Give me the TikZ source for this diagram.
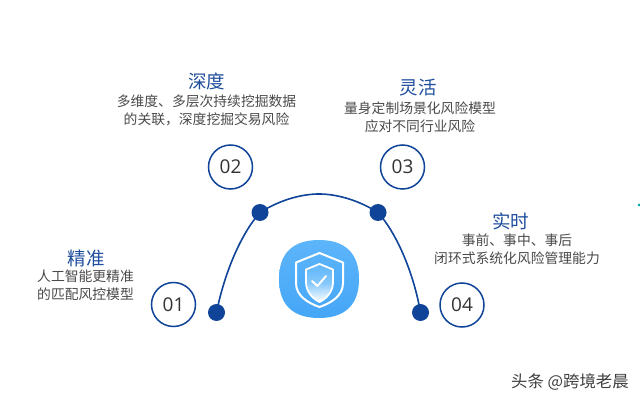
\documentclass[tikz,border=0pt]{standalone}
\usepackage{fontspec}
\setmainfont{Noto Sans CJK SC}
\newfontfamily\numfont{Open Sans}
\definecolor{navy}{HTML}{0F4499}
\definecolor{titleblue}{HTML}{1F4E9E}
\definecolor{bodygrey}{HTML}{4A4A4A}
\definecolor{iconblue}{HTML}{45A6F7}
\definecolor{iconlight}{HTML}{5DB5FA}
\tikzset{
  arcline/.style={draw=navy,line width=1.6pt},
  dot/.style={circle,fill=navy,draw=none,inner sep=0pt},
  numring/.style={circle,draw=navy,line width=1.5pt,fill=white,minimum size=44pt,inner sep=0pt,font=\numfont\fontsize{19}{19}\selectfont,text=black!80},
  headline/.style={font=\fontsize{18.5}{20}\selectfont,text=titleblue,inner sep=0pt},
  bodytext/.style={font=\fontsize{13.8}{18}\selectfont,text=bodygrey,align=center,inner sep=0pt},
  wmark/.style={font=\fontsize{16.4}{18}\selectfont,text=black!75,inner sep=0pt},
  shieldline/.style={draw=white,line join=round}
}
\begin{document}
\begin{tikzpicture}[x=1pt,y=-1pt]
\useasboundingbox (0,0) rectangle (640,403);
\fill[white] (0,0) rectangle (640,403);
% nodes on the arc
\node[dot,minimum size=17pt] (p1) at (216.5,312.5) {};
\node[dot,minimum size=17pt] (p2) at (260,212.5) {};
\node[dot,minimum size=17pt] (p3) at (378,212.5) {};
\node[dot,minimum size=17pt] (p4) at (420.5,312.5) {};
% arc
\draw[arcline] (p1.center) .. controls (224,275) and (240,235) .. (p2.center);
\draw[arcline] (p2.center) .. controls (283,198) and (305,194) .. (319,194) .. controls (333,194) and (355,198) .. (p3.center);
\draw[arcline] (p3.center) .. controls (398,235) and (414,275) .. (p4.center);
% number rings
\node[numring] (n1) at (173.5,304.5) {01};
\node[numring] (n2) at (230.5,167) {02};
\node[numring] (n3) at (402.5,167) {03};
\node[numring] (n4) at (462,305) {04};
% texts
\node[headline] (t1) at (86,258.5) {精准};
\node[bodytext] (b1) at (85.5,285) {人工智能更精准\\的匹配风控模型};
\node[headline] (t2) at (206.5,81) {深度};
\node[bodytext] (b2) at (206.5,110) {多维度、多层次持续挖掘数据\\的关联，深度挖掘交易风险};
\node[headline] (t3) at (418,87.5) {灵活};
\node[bodytext] (b3) at (420,117) {量身定制场景化风险模型\\应对不同行业风险};
\node[headline] (t4) at (510.5,221.5) {实时};
\node[bodytext] (b4) at (517,249) {事前、事中、事后\\闭环式系统化风险管理能力};
% icon
\shade[top color=iconlight,bottom color=iconblue]
  (319,240) .. controls (345,240) and (359,253) .. (359,279)
  .. controls (359,305) and (345,318) .. (319,318)
  .. controls (293,318) and (279,305) .. (279,279)
  .. controls (279,253) and (293,240) .. (319,240) -- cycle;
\shade[top color=iconlight,bottom color=white,middle color=iconlight!75!white]
  (319.5,264) -- (333,269.5) -- (333,282) .. controls (333,292) and (326,299) .. (319.5,302)
  .. controls (313,299) and (306,292) .. (306,282) -- (306,269.5) -- cycle;
\draw[shieldline,line width=2pt]
  (319.5,253) -- (343,262.5) -- (343,283) .. controls (343,296) and (331,303) .. (319.5,307)
  .. controls (308,303) and (296,296) .. (296,283) -- (296,262.5) -- cycle;
\draw[shieldline,line width=1.8pt]
  (319.5,264) -- (333,269.5) -- (333,282) .. controls (333,292) and (326,299) .. (319.5,302)
  .. controls (313,299) and (306,292) .. (306,282) -- (306,269.5) -- cycle;
\draw[shieldline,line width=2pt,line cap=round] (312,281) -- (317.5,286) -- (326,276);
% watermark
\node[wmark,anchor=west] (wm) at (511,382) {头条 @跨境老晨};
% edge speck
\fill[teal!70!cyan] (639,205) circle (1.5pt);
\end{tikzpicture}
\end{document}
